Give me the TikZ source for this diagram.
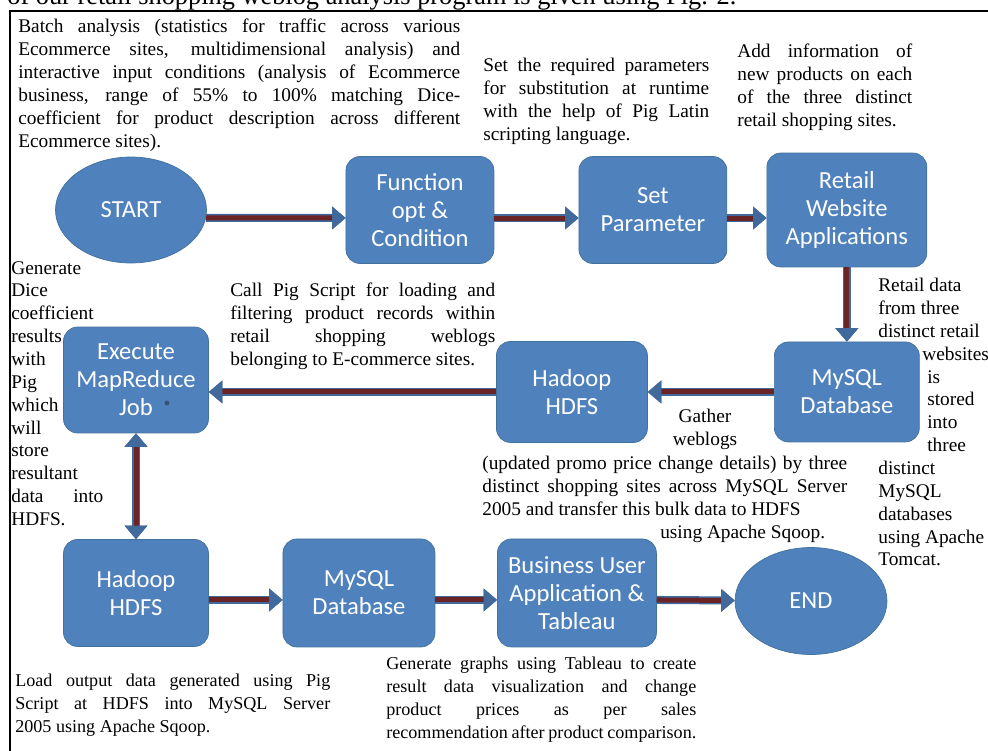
\documentclass[tikz,border=0pt]{standalone}
\usepackage{fontspec}
\setmainfont{Liberation Serif}
\newfontfamily\boxfont{Carlito}
\usetikzlibrary{shapes.geometric,arrows.meta}

\definecolor{boxblue}{HTML}{4F81BD}
\definecolor{boxedge}{HTML}{41719C}
\definecolor{shaftred}{HTML}{6B2426}
\definecolor{headblue}{HTML}{41699B}

\tolerance=10000
\hbadness=10000
\hyphenpenalty=10000

\begin{document}
\begin{tikzpicture}[x=0.02cm, y=-0.02cm,
    flowbox/.style={shape=rectangle, rounded corners=0.28cm, draw=boxedge, fill=boxblue, text=white,
        font=\boxfont\fontsize{14}{16}\selectfont, align=center,
        minimum width=2.96cm, minimum height=2.14cm, inner sep=0pt},
    terminal/.style={flowbox, shape=ellipse, minimum width=3.02cm, minimum height=2.12cm},
    flowtip/.tip={Triangle[width=0.46cm, length=0.27cm, line width=0pt, color=headblue]},
    flowarrow/.style={draw=shaftred, line width=0.1cm, -flowtip,
        preaction={draw=headblue, line width=0.16cm}},
    note/.style={font=\fontsize{11}{13}\selectfont, anchor=north west, inner sep=0pt, align=justify}]
    \useasboundingbox (0,0) rectangle (988,751);

    % cut-off line of the page above the figure
    \begin{scope}
        \clip (0,0) rectangle (988,10);
        \node[anchor=base west, inner sep=0pt, font=\fontsize{15}{18}\selectfont] (HeadingCut) at (7,4)
            {of our retail shopping weblog analysis program is given using Fig. 2.};
    \end{scope}

    % flow
    \node[terminal] (START) at (131,210) {START};
    \node[flowbox] (Function) [right of=START, node distance=5.78cm] {Function\\opt \&\\Condition};
    \node[flowbox] (SetParameter) [right of=Function, node distance=4.66cm] {Set\\Parameter};
    \node[flowbox, minimum width=3.2cm, minimum height=2.28cm] (RetailApps) [right of=SetParameter, node distance=3.88cm] {Retail\\Website\\Applications};
    \node[flowbox, minimum width=2.9cm, minimum height=2cm] (MySQLA) [below of=RetailApps, node distance=3.64cm] {MySQL\\Database};
    \node[flowbox, minimum width=3.02cm, minimum height=2.02cm] (HadoopA) [left of=MySQLA, node distance=5.5cm] {Hadoop\\HDFS};
    \node[flowbox, minimum width=2.9cm, minimum height=2.12cm] (MapReduce) at (136,380) {Execute\\MapReduce\\Job};
    \node[flowbox, minimum width=2.9cm] (HadoopB) [below of=MapReduce, node distance=4.26cm] {Hadoop\\HDFS};
    \node[flowbox, minimum width=3.04cm, minimum height=2.16cm] (MySQLB) [right of=HadoopB, node distance=4.46cm] {MySQL\\Database};
    \node[flowbox, minimum width=3.18cm, minimum height=2.16cm] (Business) [right of=MySQLB, node distance=4.36cm] {Business User\\Application \&\\Tableau};
    \node[terminal, minimum width=3.04cm, minimum height=2.14cm] (END) at (811,601) {END};
    \fill[headblue!80!black] ([xshift=0.62cm, yshift=-0.46cm]MapReduce.center) circle (0.05cm);

    \draw[flowarrow] (START.-6) -- ([yshift=-0.16cm]Function.west);
    \draw[flowarrow] ([yshift=-0.16cm]Function.east) -- ([yshift=-0.16cm]SetParameter.west);
    \draw[flowarrow] ([yshift=-0.16cm]SetParameter.east) -- ([yshift=-0.16cm]RetailApps.west);
    \draw[flowarrow] (RetailApps) -- (MySQLA);
    \draw[flowarrow] (MySQLA) -- (HadoopA);
    \draw[flowarrow] (HadoopA.west) -- (HadoopA.west -| MapReduce.east);
    \draw[flowarrow, flowtip-flowtip] (MapReduce) -- (HadoopB);
    \draw[flowarrow] ([yshift=-0.14cm]HadoopB.east) -- ([yshift=-0.14cm]MySQLB.west);
    \draw[flowarrow] ([yshift=-0.14cm]MySQLB.east) -- ([yshift=-0.14cm]Business.west);
    \draw[flowarrow] ([yshift=-0.14cm]Business.east) -- (END);

    % notes
    \node[note, text width=8.84cm] (BatchNote) at (18,19) {Batch analysis (statistics for traffic across various\linebreak
        Ecommerce sites, multidimensional analysis) and\linebreak
        interactive input conditions (analysis of Ecommerce\linebreak
        business, range of 55\% to 100\% matching Dice-\linebreak
        coefficient for product description across different\linebreak
        Ecommerce sites).};
    \node[note, text width=4.52cm] (SetNote) at (483,58) {Set the required parameters\linebreak
        for substitution at runtime\linebreak
        with the help of Pig Latin\linebreak
        scripting language.};
    \node[note, text width=3.5cm] (AddNote) at (737,44) {Add information of\linebreak
        new products on each\linebreak
        of the three distinct\linebreak
        retail shopping sites.};
    \node[note, text width=1.84cm] (DiceNote) at (11,261) {Generate\linebreak Dice\linebreak coefficient\linebreak
        results\linebreak with\linebreak Pig\linebreak which\linebreak will\linebreak store\linebreak
        resultant\linebreak data into\linebreak HDFS.};
    \node[note, text width=5.3cm] (PigNote) at (230,283) {Call Pig Script for loading and\linebreak
        filtering product records within\linebreak
        retail shopping weblogs\linebreak
        belonging to E-commerce sites.};
    \node[note, align=left] (RetailNote) at (878,278) {Retail data\\from three\\distinct retail\\
        \hspace*{0.88cm}websites\\\hspace*{0.98cm}is\\\hspace*{0.98cm}stored\\
        \hspace*{0.98cm}into\\\hspace*{0.98cm}three\\
        distinct\\MySQL\\databases\\using Apache\\Tomcat.};
    \node[note, anchor=north, align=center] (GatherNote) at (705,409) {Gather\\weblogs};
    \node[note, text width=7.3cm] (WeblogNote) at (482,456) {(updated promo price change details) by three\linebreak
        distinct shopping sites across MySQL Server\linebreak
        2005 and transfer this bulk data to HDFS\newline
        \hspace*{3.56cm}using Apache Sqoop.};
    \node[note, font=\fontsize{10.3}{13}\selectfont, text width=6.3cm] (LoadNote) at (15,674) {Load output data generated using Pig\linebreak
        Script at HDFS into MySQL Server\linebreak
        2005 using Apache Sqoop.};
    \node[note, font=\fontsize{10.3}{13}\selectfont, text width=6.2cm] (GraphNote) at (386,657) {Generate graphs using Tableau to create\linebreak
        result data visualization and change\linebreak
        product prices as per sales\linebreak
        recommendation after product comparison.};

    % frame
    \draw[line width=0.05cm] (988,11) -- (10,11) -- (10,751);
\end{tikzpicture}
\end{document}
